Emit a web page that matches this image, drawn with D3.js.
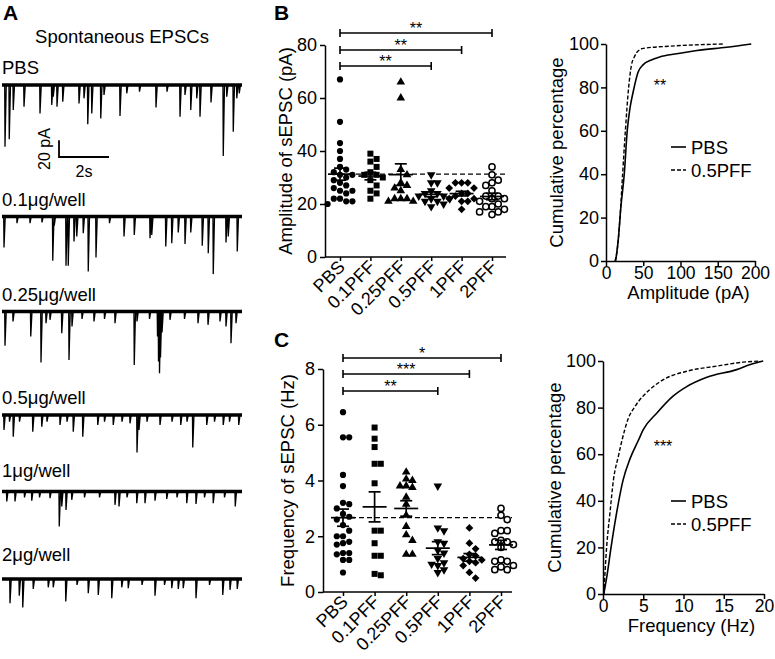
<!DOCTYPE html>
<html><head><meta charset="utf-8">
<script src="https://cdn.jsdelivr.net/npm/d3@7"></script>
<style>
body{margin:0;background:#fff}
text{font-family:Arial,"Liberation Sans",sans-serif;fill:#000}
</style>
</head><body>
<svg id="chart" width="775" height="659"></svg>
<script>
// ---------------- DATA ----------------
const groups = ["PBS","0.1PFF","0.25PFF","0.5PFF","1PFF","2PFF"];
const shapes = ["circle","square","triangle","triangleDown","diamond","openCircle"];

const ampPBS    = [67,51,43,40,37,34,33,32,31,31,30,29,28,27,26,25,25,24,22,22,21,21,20];
const amp01PFF  = [39,37,36,34,32,31,31,30,29,27,25,24,22];
const amp025PFF = [66,60,33,31,28,27,26,25,22,22,22,21,21];
const amp05PFF  = [31,28,28,25,24,24,23,23,22,22,21,21,20,19];
const amp1PFF   = [28,28,28,26,26,24,24,23,22,22,21,21,18];
const amp2PFF   = [34,31,29,28,27,25,23,23,22,22,21,20,19,19,18,17,17,16];

const freqPBS    = [6.45,5.55,5.55,4.2,3.8,3.2,3.15,3.0,2.8,2.7,2.6,2.4,2.2,2.0,2.0,1.8,1.75,1.7,1.4,1.4,1.35,1.15,1.15,0.7];
const freq01PFF  = [5.9,5.5,5.2,4.6,4.6,3.9,2.2,2.2,1.75,1.3,1.3,0.6,0.65];
const freq025PFF = [4.3,4.05,4.0,3.8,3.8,3.75,3.4,3.15,2.75,2.35,2.05,1.85,1.35,1.35];
const freq05PFF  = [3.8,2.3,2.2,1.8,1.75,1.5,1.4,1.2,1.05,1.0,0.95,0.8,0.7];
const freq1PFF   = [2.3,1.75,1.55,1.35,1.3,1.2,1.15,1.1,1.05,0.95,0.7,0.5];
const freq2PFF   = [3.0,2.75,2.6,2.2,2.2,2.1,1.85,1.8,1.8,1.7,1.6,1.15,1.1,1.1,0.95,0.9,0.8,0.8];

const ampTicks  = [0,20,40,60,80];
const freqTicks = [0,2,4,6,8];
const pctTicks  = [0,20,40,60,80,100];
const cumAmpTicks  = [0,50,100,150,200];
const cumFreqTicks = [0,5,10,15,20];

const ampSig  = [["0.5PFF","**"],["1PFF","**"],["2PFF","**"]];
const freqSig = [["0.5PFF","**"],["1PFF","***"],["2PFF","*"]];

// cumulative distributions [value, percent]
const cumAmpPBS = [[13,0],[16.5,10],[20,25],[24.5,40],[28.5,60],[32,70],[36.5,78],[43,87],[50,90.5],[60,92.5],[72,94],[95,95.5],[122,97],[162,98.5],[195,100]];
const cumAmp05  = [[12,0],[15,5],[18.8,20],[22.3,40],[26,60],[30.4,80],[34,90],[38,94],[41,96],[50,98],[86,99],[157,100]];
const cumFreqPBS = [[0.1,0],[0.5,8],[1.0,20],[1.6,33],[2.5,49],[3.35,58],[4.4,66],[5,70.5],[6.7,77.7],[8.7,84.9],[10.4,89],[12.9,93],[16.6,96.3],[18.3,98.5],[19.9,100]];
const cumFreq05  = [[0.1,0],[0.45,20],[0.87,35],[1.3,49],[1.9,59],[2.7,70.5],[3.1,75],[4.0,80.6],[5.8,87.7],[7.5,92],[10.4,95.6],[14.1,97.8],[17.4,99.5],[19.5,100]];

// trace events [time s, amplitude pA]
const tracePBS = [[0.12,74],[0.29,65],[0.45,30],[0.88,26],[1.52,34],[1.99,24],[2.05,14],[2.2,26],[2.43,20],[3.08,22],[3.28,16],[3.43,47],[3.59,34],[3.95,40],[4.08,12],[4.72,37],[4.99,10],[5.5,8],[6.16,27],[6.6,8],[7.12,38],[7.32,12],[7.55,30],[7.79,16],[7.92,38],[8.36,21],[8.85,85],[8.99,14],[9.25,56],[9.39,16],[9.49,10]];
const trace01  = [[0.08,37],[0.6,8],[1.12,8],[1.6,7],[2.03,53],[2.09,11],[2.56,59],[2.65,59],[2.88,30],[2.99,24],[3.25,20],[3.45,66],[3.76,49],[4.3,8],[4.88,24],[5.29,22],[5.92,26],[5.99,22],[6.55,36],[6.79,32],[7.05,19],[7.32,33],[7.55,19],[8.01,35],[8.25,44],[8.45,69],[8.96,31],[9.05,24],[9.41,42]];
const trace025 = [[0.12,41],[0.44,12],[1.15,30],[1.56,61],[1.76,14],[1.92,10],[2.39,26],[2.68,58],[2.8,18],[3.2,9],[3.68,12],[4.1,9],[4.52,14],[5.29,64],[5.4,12],[5.9,9],[6.22,30],[6.26,60],[6.3,74],[6.34,55],[6.4,25],[6.72,10],[7.3,9],[7.84,14],[8.24,16],[8.72,12],[8.96,18],[9.16,38],[9.36,14]];
const trace05  = [[0.08,18],[0.3,8],[0.45,26],[0.7,8],[1.23,20],[1.59,14],[1.8,8],[2.32,12],[2.6,8],[2.85,20],[3.23,26],[3.83,12],[4.1,8],[4.45,12],[4.8,8],[5.12,10],[5.4,45],[5.48,18],[5.8,8],[6.32,12],[6.8,8],[7.15,12],[7.4,8],[7.63,39],[8.19,12],[8.5,8],[8.85,12],[9.1,8],[9.47,12]];
const trace1   = [[0.19,12],[0.52,12],[0.9,7],[1.19,11],[1.5,7],[1.92,8],[2.29,42],[2.39,18],[2.56,22],[2.79,10],[3.3,7],[3.9,7],[4.52,16],[4.68,18],[5.0,7],[5.39,14],[5.72,14],[6.12,11],[6.59,9],[7.0,7],[7.39,14],[7.76,15],[8.1,7],[8.45,14],[8.9,7],[9.33,18]];
const trace2   = [[0.32,29],[0.69,20],[0.83,34],[1.25,12],[1.85,10],[2.05,10],[2.55,27],[3.0,7],[3.45,17],[3.85,19],[4.39,23],[4.79,10],[5.05,11],[5.6,7],[6.12,20],[6.5,7],[6.79,11],[7.05,12],[7.25,11],[7.76,23],[8.3,7],[8.83,19],[9.12,13],[9.41,12]];

const traceLabels = ["PBS","0.1μg/well","0.25μg/well","0.5μg/well","1μg/well","2μg/well"];

// ---------------- DRAW ----------------
const svg = d3.select("#chart");
const FONT = 'Arial, "Liberation Sans", sans-serif';

function styleAxis(g, fs) {
  g.attr("font-family", FONT).attr("font-size", fs);
  g.selectAll("path.domain").attr("stroke","#000").attr("stroke-width",1.5);
  g.selectAll(".tick line").attr("stroke","#000").attr("stroke-width",1.5);
  g.selectAll(".tick text").attr("fill","#000");
}

function marker(g, shape, x, y) {
  if (shape === "circle") {
    g.append("circle").attr("cx",x).attr("cy",y).attr("r",3.1).attr("fill","#000");
  } else if (shape === "openCircle") {
    g.append("circle").attr("cx",x).attr("cy",y).attr("r",3.1).attr("fill","#fff").attr("stroke","#000").attr("stroke-width",1.5);
  } else if (shape === "square") {
    g.append("rect").attr("x",x-3).attr("y",y-3).attr("width",6).attr("height",6).attr("fill","#000");
  } else if (shape === "triangle") {
    g.append("path").attr("d",d3.symbol(d3.symbolTriangle,32)()).attr("transform",`translate(${x},${y})`).attr("fill","#000");
  } else if (shape === "triangleDown") {
    g.append("path").attr("d",d3.symbol(d3.symbolTriangle,32)()).attr("transform",`translate(${x},${y}) rotate(180)`).attr("fill","#000");
  } else if (shape === "diamond") {
    g.append("path").attr("d",d3.symbol(d3.symbolSquare,30)()).attr("transform",`translate(${x},${y}) rotate(45)`).attr("fill","#000");
  }
}

function swarm(values, yScale, cx, step, minDist) {
  const placed = [];
  const sorted = values.slice().sort((a,b)=>b-a);
  sorted.forEach(v => {
    const py = yScale(v);
    for (let k=0; k<20; k++) {
      const off = (k===0) ? 0 : (k%2===1 ? 1 : -1) * Math.ceil(k/2) * step;
      const px = cx + off;
      if (placed.every(p => Math.hypot(p[0]-px, p[1]-py) >= minDist)) { placed.push([px,py]); break; }
    }
  });
  return placed;
}

function scatterPanel(opts) {
  const {datasets, yDomain, yRange, ticks, axisX, xRange, axisEnd, title, titleX, sig, sigY} = opts;
  const g = svg.append("g");
  const x = d3.scalePoint().domain(groups).range(xRange);
  const y = d3.scaleLinear().domain(yDomain).range(yRange);
  const ya = g.append("g").attr("transform",`translate(${axisX},0)`)
    .call(d3.axisLeft(y).tickValues(ticks).tickSize(5).tickSizeOuter(0).tickPadding(3));
  styleAxis(ya, 18);
  const baseY = y(yDomain[0]);
  g.append("line").attr("x1",axisX).attr("x2",axisEnd).attr("y1",baseY).attr("y2",baseY).attr("stroke","#000").attr("stroke-width",1.5);
  const xa = g.append("g").attr("transform",`translate(0,${baseY})`)
    .call(d3.axisBottom(x).tickSize(4).tickSizeOuter(0).tickFormat(""));
  xa.select("path.domain").remove();
  styleAxis(xa, 18);
  groups.forEach(gr => {
    g.append("text").attr("transform",`translate(${x(gr)+6},${baseY+11}) rotate(-45)`)
      .attr("text-anchor","end").attr("font-size",18).text(gr);
  });
  g.append("text").attr("transform",`translate(${titleX},${(yRange[0]+yRange[1])/2}) rotate(-90)`)
    .attr("text-anchor","middle").attr("font-size",18.5).text(title);
  const refMean = d3.mean(datasets[0]);
  g.append("line").attr("x1",x(groups[0])-8).attr("x2",axisEnd).attr("y1",y(refMean)).attr("y2",y(refMean))
    .attr("stroke","#000").attr("stroke-width",1.3).attr("stroke-dasharray","5,3");
  datasets.forEach((vals,i) => {
    const cx = x(groups[i]);
    swarm(vals, y, cx, 6.2, 6.0).forEach(p => marker(g, shapes[i], p[0], p[1]));
  });
  datasets.forEach((vals,i) => {
    const cx = x(groups[i]);
    const m = d3.mean(vals), sem = d3.deviation(vals)/Math.sqrt(vals.length);
    const lw = 1.7;
    g.append("line").attr("x1",cx-12).attr("x2",cx+12).attr("y1",y(m)).attr("y2",y(m)).attr("stroke","#000").attr("stroke-width",lw);
    g.append("line").attr("x1",cx).attr("x2",cx).attr("y1",y(m-sem)).attr("y2",y(m+sem)).attr("stroke","#000").attr("stroke-width",lw);
    [m-sem,m+sem].forEach(v => g.append("line").attr("x1",cx-6).attr("x2",cx+6).attr("y1",y(v)).attr("y2",y(v)).attr("stroke","#000").attr("stroke-width",lw));
  });
  sig.forEach((s,i) => {
    const yy = sigY[i];
    const x1 = x(groups[0]), x2 = x(s[0]);
    g.append("line").attr("x1",x1).attr("x2",x2).attr("y1",yy).attr("y2",yy).attr("stroke","#000").attr("stroke-width",1.6);
    [x1,x2].forEach(xx => g.append("line").attr("x1",xx).attr("x2",xx).attr("y1",yy-4).attr("y2",yy+4).attr("stroke","#000").attr("stroke-width",1.6));
    g.append("text").attr("x",(x1+x2)/2).attr("y",yy+1).attr("text-anchor","middle").attr("font-size",16).text(s[1]);
  });
}

function cumPanel(opts) {
  const {xDomain, xRange, yRange, xTicks, pbs, pff, xTitle, xTitleY, yTitleX, star, starPos, legY} = opts;
  const g = svg.append("g");
  const x = d3.scaleLinear().domain(xDomain).range(xRange);
  const y = d3.scaleLinear().domain([0,100]).range(yRange);
  const ya = g.append("g").attr("transform",`translate(${xRange[0]},0)`)
    .call(d3.axisLeft(y).tickValues(pctTicks).tickSize(5).tickSizeOuter(0).tickPadding(2));
  styleAxis(ya, 18);
  const xa = g.append("g").attr("transform",`translate(0,${yRange[0]})`)
    .call(d3.axisBottom(x).tickValues(xTicks).tickSize(5).tickSizeOuter(0).tickPadding(1));
  styleAxis(xa, 17.5);
  g.append("text").attr("x",(xRange[0]+xRange[1])/2+8).attr("y",xTitleY).attr("text-anchor","middle").attr("font-size",18.5).text(xTitle);
  g.append("text").attr("transform",`translate(${yTitleX},${(yRange[0]+yRange[1])/2}) rotate(-90)`)
    .attr("text-anchor","middle").attr("font-size",18.5).text("Cumulative percentage");
  const line = d3.line().x(d=>x(d[0])).y(d=>y(d[1])).curve(d3.curveMonotoneX);
  g.append("path").attr("d",line(pbs)).attr("fill","none").attr("stroke","#000").attr("stroke-width",1.6);
  g.append("path").attr("d",line(pff)).attr("fill","none").attr("stroke","#000").attr("stroke-width",1.4).attr("stroke-dasharray","4,2");
  g.append("text").attr("x",starPos[0]).attr("y",starPos[1]).attr("text-anchor","middle").attr("font-size",16).text(star);
  const lx = 671;
  g.append("line").attr("x1",lx).attr("x2",lx+15).attr("y1",legY).attr("y2",legY).attr("stroke","#000").attr("stroke-width",1.6);
  g.append("text").attr("x",lx+20).attr("y",legY+6.5).attr("font-size",18.5).text("PBS");
  g.append("line").attr("x1",lx).attr("x2",lx+15).attr("y1",legY+23).attr("y2",legY+23).attr("stroke","#000").attr("stroke-width",1.4).attr("stroke-dasharray","4,2");
  g.append("text").attr("x",lx+20).attr("y",legY+29.5).attr("font-size",18.5).text("0.5PFF");
}

// Panel labels
svg.append("text").attr("x",3).attr("y",20).attr("font-size",21).attr("font-weight","bold").text("A");
svg.append("text").attr("x",274).attr("y",20).attr("font-size",21).attr("font-weight","bold").text("B");
svg.append("text").attr("x",274).attr("y",347).attr("font-size",21).attr("font-weight","bold").text("C");

// ---- Panel A: traces ----
svg.append("text").attr("x",122).attr("y",43).attr("text-anchor","middle").attr("font-size",18.5).text("Spontaneous EPSCs");
const xT = d3.scaleLinear().domain([0,9.6]).range([2,242]);
const traces = [tracePBS, trace01, trace025, trace05, trace1, trace2];
const baselines = [85, 216.5, 311.5, 415, 491.5, 579];
const labelY = [74, 206, 301, 404, 477, 561];
traces.forEach((ev,i) => {
  const yT = d3.scaleLinear().domain([0,100]).range([baselines[i], baselines[i]+83.5]);
  const pts = [[0,0]];
  ev.slice().sort((a,b)=>a[0]-b[0]).forEach(([t,a]) => { pts.push([t-0.012,0],[t,a],[t+0.05,0]); });
  pts.push([9.6,0]);
  svg.append("line").attr("x1",xT(0)).attr("x2",xT(9.6)).attr("y1",yT(0)).attr("y2",yT(0)).attr("stroke","#000").attr("stroke-width",3.6);
  svg.append("path").attr("d",d3.line().x(d=>xT(d[0])).y(d=>yT(d[1]))(pts)).attr("fill","none").attr("stroke","#000").attr("stroke-width",1.3);
  svg.append("text").attr("x",2).attr("y",labelY[i]).attr("font-size",18.5).text(traceLabels[i]);
});
{
  const yS = d3.scaleLinear().domain([0,100]).range([0,83.5]);
  const bx = 59, by = 157;
  svg.append("path").attr("d",`M${bx},${by-yS(20)}V${by}H${bx+xT(2)-xT(0)}`).attr("fill","none").attr("stroke","#000").attr("stroke-width",1.8);
  svg.append("text").attr("transform",`translate(50,${by-8}) rotate(-90)`).attr("text-anchor","middle").attr("font-size",16).text("20 pA");
  svg.append("text").attr("x",bx+(xT(2)-xT(0))/2).attr("y",177).attr("text-anchor","middle").attr("font-size",16).text("2s");
}

// ---- Panel B ----
scatterPanel({
  datasets:[ampPBS,amp01PFF,amp025PFF,amp05PFF,amp1PFF,amp2PFF],
  yDomain:[0,80], yRange:[257,45], ticks:ampTicks, axisX:325, xRange:[340,492], axisEnd:506,
  title:"Amplitude of sEPSC (pA)", titleX:292, sig:ampSig, sigY:[66,50,33]
});
cumPanel({
  xDomain:[0,200], xRange:[606,755], yRange:[261,44], xTicks:cumAmpTicks, pbs:cumAmpPBS, pff:cumAmp05,
  xTitle:"Amplitude (pA)", xTitleY:299, yTitleX:563, star:"**", starPos:[660,91], legY:147
});

// ---- Panel C ----
scatterPanel({
  datasets:[freqPBS,freq01PFF,freq025PFF,freq05PFF,freq1PFF,freq2PFF],
  yDomain:[0,8], yRange:[592,369], ticks:freqTicks, axisX:323, xRange:[343,501], axisEnd:512,
  title:"Frequency of sEPSC (Hz)", titleX:294, sig:freqSig, sigY:[391,374,358]
});
cumPanel({
  xDomain:[0,20], xRange:[603,764], yRange:[594,361], xTicks:cumFreqTicks, pbs:cumFreqPBS, pff:cumFreq05,
  xTitle:"Frequency (Hz)", xTitleY:632, yTitleX:561, star:"***", starPos:[663,452], legY:501
});
</script>
</body></html>
